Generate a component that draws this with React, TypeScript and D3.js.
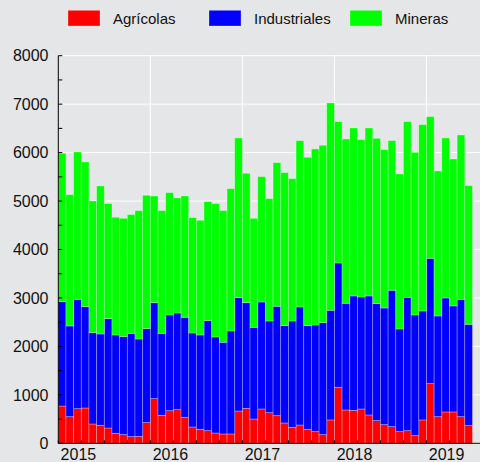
import React from 'react'
import * as d3 from 'd3'

// monthly values, Jan 2015 - Jun 2019
const years = ['2015', '2016', '2017', '2018', '2019']
const monthNums = ['01', '02', '03', '04', '05', '06', '07', '08', '09', '10', '11', '12']
const months: string[] = []
years.forEach(y => monthNums.forEach(m => { if (months.length < 54) months.push(y + '-' + m) }))

const agricolas = [
  770, 550, 715, 729, 399, 372, 316, 206, 179, 138, 144, 427,
  922, 578, 674, 695, 537, 337, 289, 261, 213, 193, 193, 667,
  722, 502, 709, 633, 571, 420, 330, 378, 289, 241, 179, 482,
  1156, 688, 681, 709, 585, 468, 385, 344, 241, 261, 158, 482,
  1232, 550, 647, 647, 550, 365
]
const industriales = [
  2154, 1872, 2257, 2092, 1885, 1885, 2257, 2030, 2023, 2132, 2009, 1940,
  1981, 1692, 1975, 1995, 2064, 1940, 1947, 2271, 1982, 1892, 2126, 2340,
  2181, 1892, 2208, 1892, 2257, 2009, 2195, 2436, 2140, 2201, 2312, 2263,
  2566, 2202, 2360, 2311, 2456, 2415, 2408, 2814, 2119, 2753, 2491, 2249,
  2586, 2078, 2353, 2188, 2422, 2091
]
const mineras = [
  3061, 2710, 3041, 2986, 2718, 3054, 2374, 2429, 2442, 2450, 2649, 2752,
  2202, 2532, 2525, 2374, 2504, 2381, 2367, 2456, 2752, 2717, 2937, 3295,
  2670, 2250, 2587, 2525, 2965, 3158, 2938, 3433, 3474, 3633, 3660, 4279,
  2917, 3391, 3467, 3248, 3467, 3412, 3268, 3089, 3199, 3625, 3357, 3846,
  2924, 2993, 3302, 3033, 3392, 2862
]

const seriesNames = ['Agrícolas', 'Industriales', 'Mineras']
const seriesColors = ['#ff0000', '#0000ff', '#00ff00']
const yTicks = [0, 1000, 2000, 3000, 4000, 5000, 6000, 7000, 8000]

const width = 480
const height = 462
const margin = { top: 55.7, left: 58.3, bottom: 443.3 }
const font = '"Liberation Sans", Arial, Helvetica, sans-serif'

export default function App() {
  const x = d3.scaleBand()
    .domain(months)
    .range([margin.left, margin.left + months.length * 7.67])
    .padding(0)
  const y = d3.scaleLinear().domain([0, 8000]).range([margin.bottom, margin.top])

  const table = months.map((m, i) => ({
    month: m,
    Agrícolas: agricolas[i],
    Industriales: industriales[i],
    Mineras: mineras[i]
  }))
  const stacked = d3.stack<any>().keys(seriesNames)(table)

  const minorTicks = d3.range(0, 8001, 500)
  const quarterTicks = months.filter((m, i) => i % 3 === 0)
  const legendX = [68, 209, 350]

  return (
    <svg width={width} height={height}
      style={{ position: 'absolute', left: 0, top: 0, display: 'block', background: '#e5e6e8' }}
      fontFamily={font}>
      <rect x={0} y={0} width={width} height={height} fill="#e5e6e8" />

      {/* grid */}
      {yTicks.map(t => (
        <line key={'gy' + t} x1={margin.left} x2={width} y1={y(t)} y2={y(t)} stroke="#fff" strokeWidth={1} />
      ))}
      {years.slice(1).map(yr => (
        <line key={'gx' + yr} x1={x(yr + '-01')} x2={x(yr + '-01')} y1={margin.top} y2={margin.bottom}
          stroke="#fff" strokeWidth={1} />
      ))}

      {/* bars */}
      {stacked.map((s, si) => (
        <g key={s.key} fill={seriesColors[si]}>
          {s.map((d, i) => (
            <rect key={i}
              x={x(months[i])}
              y={y(d[1])}
              width={x.bandwidth()}
              height={y(d[0]) - y(d[1])}
              stroke="rgba(255,255,255,0.35)"
              strokeWidth={0.8} />
          ))}
        </g>
      ))}

      {/* y axis */}
      <line x1={margin.left} x2={margin.left} y1={margin.top} y2={margin.bottom} stroke="#000" strokeWidth={1} />
      {minorTicks.map(t => (
        <line key={'ty' + t} x1={margin.left} x2={margin.left + 4} y1={y(t)} y2={y(t)} stroke="#000" strokeWidth={1} />
      ))}
      {yTicks.map(t => (
        <text key={'ly' + t} x={48.5} y={y(t)} dy="0.36em" textAnchor="end" fontSize={16} fill="#111">{t}</text>
      ))}

      {/* x axis */}
      <line x1={margin.left} x2={width} y1={margin.bottom} y2={margin.bottom} stroke="#000" strokeWidth={1} />
      {quarterTicks.map(m => (
        <line key={'tx' + m} x1={x(m)} x2={x(m)} y1={margin.bottom} y2={margin.bottom - 3} stroke="#000" strokeWidth={1} />
      ))}
      {years.map(yr => (
        <text key={'lx' + yr} x={(x(yr + '-01') as number) + 2.3} y={460} textAnchor="start" fontSize={16} fill="#111">{yr}</text>
      ))}

      {/* legend */}
      {seriesNames.map((n, i) => (
        <g key={'lg' + n}>
          <rect x={legendX[i]} y={10.3} width={32} height={15.7} fill={seriesColors[i]}
            stroke="rgba(255,255,255,0.35)" strokeWidth={0.8} />
          <text x={legendX[i] + 45} y={24} fontSize={15} fill="#111">{n}</text>
        </g>
      ))}
    </svg>
  )
}
